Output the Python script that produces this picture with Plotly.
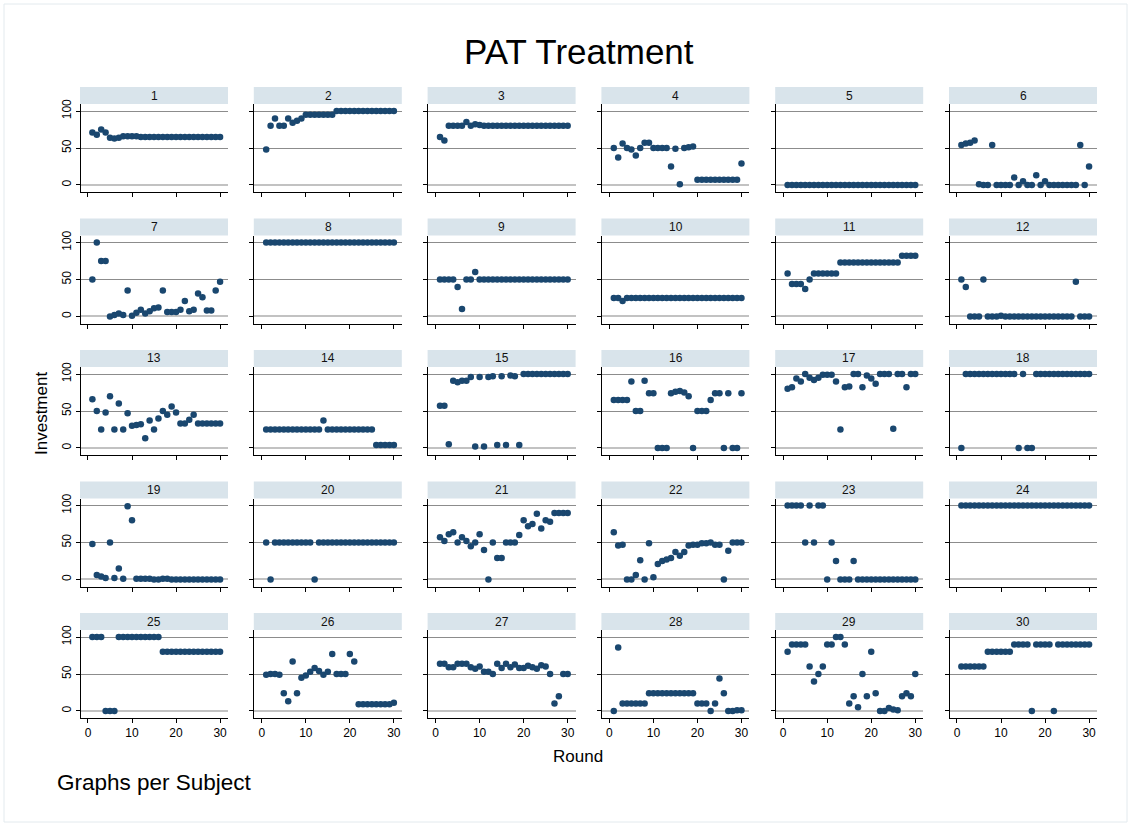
import plotly.graph_objects as go

# ---------------- data ----------------
rounds = list(range(1, 31))
subjects = [str(i) for i in range(1, 31)]

s1 = [71, 68, 75, 71, 64, 63, 64, 66, 66, 66, 66, 65, 65, 65, 65, 65, 65, 65, 65, 65, 65, 65, 65, 65, 65, 65, 65, 65, 65, 65]
s2 = [48, 80, 90, 80, 80, 90, 84, 87, 90, 95, 95, 95, 95, 95, 95, 95, 100, 100, 100, 100, 100, 100, 100, 100, 100, 100, 100, 100, 100, 100]
s3 = [65, 60, 80, 80, 80, 80, 85, 80, 82, 81, 80, 80, 80, 80, 80, 80, 80, 80, 80, 80, 80, 80, 80, 80, 80, 80, 80, 80, 80, 80]
s4 = [50, 37, 56, 50, 48, 40, 50, 57, 57, 50, 50, 50, 50, 25, 49, 1, 50, 51, 52, 7, 7, 7, 7, 7, 7, 7, 7, 7, 7, 29]
s5 = [0, 0, 0, 0, 0, 0, 0, 0, 0, 0, 0, 0, 0, 0, 0, 0, 0, 0, 0, 0, 0, 0, 0, 0, 0, 0, 0, 0, 0, 0]
s6 = [54, 56, 57, 60, 1, 0, 0, 54, 0, 0, 0, 0, 10, 0, 5, 0, 0, 13, 0, 5, 0, 0, 0, 0, 0, 0, 0, 54, 0, 25]
s7 = [50, 100, 75, 75, 0, 2, 4, 2, 35, 1, 5, 9, 4, 7, 11, 12, 35, 6, 6, 6, 9, 21, 7, 9, 31, 26, 8, 8, 35, 47]
s8 = [100, 100, 100, 100, 100, 100, 100, 100, 100, 100, 100, 100, 100, 100, 100, 100, 100, 100, 100, 100, 100, 100, 100, 100, 100, 100, 100, 100, 100, 100]
s9 = [50, 50, 50, 50, 40, 10, 50, 50, 60, 50, 50, 50, 50, 50, 50, 50, 50, 50, 50, 50, 50, 50, 50, 50, 50, 50, 50, 50, 50, 50]
s10 = [25, 25, 21, 25, 25, 25, 25, 25, 25, 25, 25, 25, 25, 25, 25, 25, 25, 25, 25, 25, 25, 25, 25, 25, 25, 25, 25, 25, 25, 25]
s11 = [58, 44, 44, 44, 37, 50, 58, 58, 58, 58, 58, 58, 73, 73, 73, 73, 73, 73, 73, 73, 73, 73, 73, 73, 73, 73, 82, 82, 82, 82]
s12 = [50, 40, 0, 0, 0, 50, 0, 0, 0, 1, 0, 0, 0, 0, 0, 0, 0, 0, 0, 0, 0, 0, 0, 0, 0, 0, 47, 0, 0, 0]
s13 = [66, 50, 25, 48, 70, 25, 60, 25, 47, 30, 31, 32, 13, 37, 25, 40, 50, 45, 56, 48, 33, 33, 38, 45, 33, 33, 33, 33, 33, 33]
s14 = [25, 25, 25, 25, 25, 25, 25, 25, 25, 25, 25, 25, 25, 37, 25, 25, 25, 25, 25, 25, 25, 25, 25, 25, 25, 4, 4, 4, 4, 4]
s15 = [57, 57, 5, 91, 89, 91, 91, 96, 2, 96, 2, 96, 97, 4, 97, 4, 98, 97, 4, 100, 100, 100, 100, 100, 100, 100, 100, 100, 100, 100]
s16 = [65, 65, 65, 65, 90, 50, 50, 91, 74, 74, 0, 0, 0, 74, 76, 77, 75, 70, 0, 50, 50, 50, 65, 74, 74, 0, 74, 0, 0, 74]
s17 = [80, 82, 94, 90, 100, 95, 92, 95, 99, 99, 99, 90, 25, 82, 83, 100, 100, 82, 98, 94, 87, 100, 100, 100, 26, 100, 100, 82, 100, 100]
s18 = [0, 100, 100, 100, 100, 100, 100, 100, 100, 100, 100, 100, 100, 0, 100, 0, 0, 100, 100, 100, 100, 100, 100, 100, 100, 100, 100, 100, 100, 100]
s19 = [48, 6, 4, 2, 50, 2, 15, 1, 99, 80, 1, 1, 1, 1, 0, 0, 1, 1, 0, 0, 0, 0, 0, 0, 0, 0, 0, 0, 0, 0]
s20 = [50, 0, 50, 50, 50, 50, 50, 50, 50, 50, 50, 0, 50, 50, 50, 50, 50, 50, 50, 50, 50, 50, 50, 50, 50, 50, 50, 50, 50, 50]
s21 = [57, 52, 61, 64, 50, 57, 52, 45, 50, 61, 40, 0, 50, 29, 29, 50, 50, 50, 60, 80, 72, 75, 89, 69, 80, 78, 90, 90, 90, 90]
s22 = [64, 46, 47, 0, 0, 6, 26, 0, 49, 3, 21, 25, 27, 29, 37, 32, 37, 46, 47, 47, 49, 49, 50, 47, 47, 0, 39, 50, 50, 50]
s23 = [100, 100, 100, 100, 50, 100, 50, 100, 100, 0, 50, 25, 0, 0, 0, 25, 0, 0, 0, 0, 0, 0, 0, 0, 0, 0, 0, 0, 0, 0]
s24 = [100, 100, 100, 100, 100, 100, 100, 100, 100, 100, 100, 100, 100, 100, 100, 100, 100, 100, 100, 100, 100, 100, 100, 100, 100, 100, 100, 100, 100, 100]
s25 = [100, 100, 100, 0, 0, 0, 100, 100, 100, 100, 100, 100, 100, 100, 100, 100, 80, 80, 80, 80, 80, 80, 80, 80, 80, 80, 80, 80, 80, 80]
s26 = [49, 50, 50, 49, 24, 13, 67, 24, 45, 48, 53, 58, 54, 49, 53, 77, 50, 50, 50, 77, 67, 9, 9, 9, 9, 9, 9, 9, 9, 11]
s27 = [64, 64, 59, 59, 64, 64, 64, 59, 57, 60, 53, 53, 50, 64, 58, 64, 59, 63, 58, 58, 61, 59, 57, 62, 60, 50, 10, 20, 50, 50]
s28 = [0, 86, 10, 10, 10, 10, 10, 10, 24, 24, 24, 24, 24, 24, 24, 24, 24, 24, 24, 10, 10, 10, 0, 10, 44, 24, 0, 0, 1, 1]
s29 = [80, 90, 90, 90, 90, 60, 40, 50, 60, 90, 90, 100, 100, 90, 10, 20, 5, 50, 20, 80, 24, 0, 0, 4, 2, 1, 20, 24, 20, 50]
s30 = [60, 60, 60, 60, 60, 60, 80, 80, 80, 80, 80, 80, 90, 90, 90, 90, 0, 90, 90, 90, 90, 0, 90, 90, 90, 90, 90, 90, 90, 90]

series = [s1, s2, s3, s4, s5, s6, s7, s8, s9, s10, s11, s12, s13, s14, s15,
          s16, s17, s18, s19, s20, s21, s22, s23, s24, s25, s26, s27, s28, s29, s30]

x_ticks = [0, 10, 20, 30]
y_ticks = [0, 50, 100]

title_text = "PAT Treatment"
x_title = "Round"
y_title = "Investment"
note_text = "Graphs per Subject"

# ---------------- layout geometry (pixels) ----------------
W, H = 1131, 826
NCOL = 6
col_left0, col_step, plot_w = 80.5, 173.8, 147.5
row_top0, row_step, plot_h = 104.0, 131.5, 88.0
strip_h = 17.0

MARKER = "#1a476f"
STRIP = "#d9e4eb"
FONT = "Liberation Sans, Arial, sans-serif"

def px(x):
    return x / W

def py(y):
    return 1 - y / H

fig = go.Figure()
shapes = []
annotations = []
layout_axes = {}

for k, (name, vals) in enumerate(zip(subjects, series)):
    c = k % NCOL
    r = k // NCOL
    n = k + 1
    left = col_left0 + c * col_step
    top = row_top0 + r * row_step
    xa = "x" if n == 1 else f"x{n}"
    ya = "y" if n == 1 else f"y{n}"
    fig.add_trace(go.Scatter(
        x=rounds, y=vals, mode="markers",
        marker=dict(color=MARKER, size=6.5, line=dict(width=0)),
        xaxis=xa, yaxis=ya, showlegend=False, hoverinfo="x+y",
    ))
    layout_axes["xaxis" if n == 1 else f"xaxis{n}"] = dict(
        domain=[px(left), px(left + plot_w)],
        anchor=ya, range=[-1.7, 31.8], automargin=False,
        tickmode="array", tickvals=x_ticks, ticktext=[str(t) for t in x_ticks],
        showticklabels=(r == 4), ticks="outside", ticklen=4, tickcolor="#000",
        tickwidth=1, showline=True, linecolor="#000", linewidth=1,
        showgrid=False, zeroline=False,
        tickfont=dict(family=FONT, size=12, color="#000"),
        fixedrange=True,
    )
    layout_axes["yaxis" if n == 1 else f"yaxis{n}"] = dict(
        domain=[py(top + plot_h), py(top)],
        anchor=xa, range=[-9.5, 109.5], automargin=False,
        tickmode="array", tickvals=y_ticks, ticktext=[str(t) for t in y_ticks],
        showticklabels=(c == 0), tickangle=-90,
        ticks="outside", ticklen=4, tickcolor="#000", tickwidth=1,
        showline=True, linecolor="#000", linewidth=1,
        showgrid=True, gridcolor="#8c8c8c", gridwidth=1,
        zeroline=True, zerolinecolor="#c2c2c2", zerolinewidth=1.5,
        tickfont=dict(family=FONT, size=12, color="#000"),
        fixedrange=True,
    )
    # strip header
    shapes.append(dict(
        type="rect", xref="paper", yref="paper", layer="below",
        x0=px(left - 0.5), x1=px(left + plot_w), y0=py(top), y1=py(top - strip_h),
        fillcolor=STRIP, line=dict(width=0),
    ))
    annotations.append(dict(
        text=name, xref="paper", yref="paper", x=px(left + plot_w / 2),
        y=py(top - strip_h / 2), xanchor="center", yanchor="middle",
        showarrow=False, font=dict(family=FONT, size=12, color="#111"),
    ))

# outer faint frame
shapes.append(dict(type="rect", xref="paper", yref="paper",
                   x0=px(4), x1=px(1127), y0=py(822), y1=py(4),
                   line=dict(color="#e3eaee", width=1), fillcolor="rgba(0,0,0,0)"))

annotations += [
    dict(text=title_text, xref="paper", yref="paper", x=px(579), y=py(52),
         xanchor="center", yanchor="middle", showarrow=False,
         font=dict(family=FONT, size=35, color="#000")),
    dict(text=x_title, xref="paper", yref="paper", x=px(578), y=py(756),
         xanchor="center", yanchor="middle", showarrow=False,
         font=dict(family=FONT, size=17, color="#000")),
    dict(text=y_title, xref="paper", yref="paper", x=px(41), y=py(413),
         xanchor="center", yanchor="middle", showarrow=False, textangle=-90,
         font=dict(family=FONT, size=17, color="#000")),
    dict(text=note_text, xref="paper", yref="paper", x=px(55), y=py(782),
         xanchor="left", yanchor="middle", showarrow=False,
         font=dict(family=FONT, size=22.5, color="#000")),
]

fig.update_layout(
    width=W, height=H, autosize=False,
    margin=dict(l=0, r=0, t=0, b=0, pad=0, autoexpand=False),
    paper_bgcolor="#ffffff", plot_bgcolor="#ffffff",
    shapes=shapes, annotations=annotations,
    **layout_axes,
)

fig.write_html(
    "out.html",
    config={"displayModeBar": False},
    post_script=(
        "document.body.style.margin='0';document.body.style.padding='0';"
        "document.documentElement.style.overflow='hidden';"
        "var gd=document.getElementById('{plot_id}');"
        "gd.style.position='fixed';gd.style.top='0px';gd.style.left='0px';"
    ),
)
